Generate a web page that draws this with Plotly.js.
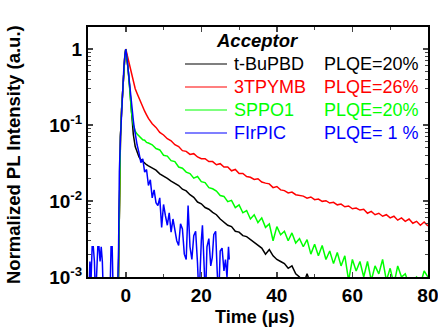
<!DOCTYPE html>
<html>
<head>
<meta charset="utf-8">
<script src="https://cdn.plot.ly/plotly-3.0.1.min.js"></script>
<style>html,body{margin:0;padding:0;background:#fff;}#chart{width:438px;height:327px;}</style>
</head>
<body>
<div id="chart"></div>
<script>
// Time axis (µs) shared by t-BuPBD, 3TPYMB and SPPO1
const timeUs = [-2.0,-1.7,-1.4,-1.1,-0.8,-0.5,-0.25,0,0.3,0.6,1.0,1.5,2.0,2.5,3.0,3.5,4.0,4.5,5.0,5.5,6.0,
  7,8,9,10,11,12,13,14,15,16,17,18,19,20,21,22,23,24,25,26,27,28,29,30,
  31,32,33,34,35,36,37,38,39,40,41,42,43,44,45,46,47,48,49,50,
  51,52,53,54,55,56,57,58,59,60,61,62,63,64,65,66,67,68,69,70,
  71,72,73,74,75,76,77,78,79,80];

const tBuPBD = [0.0006,0.02,0.07,0.16,0.32,0.55,0.8,1,0.8,0.56,0.33,0.15,0.075,0.052,0.043,0.038,0.035,0.033,0.031,0.030,0.029,
  0.027,0.0255,0.0228,0.0215,0.0198,0.0183,0.0170,0.0160,0.0143,0.0136,0.0121,0.0112,0.0097,0.0092,0.0082,0.0078,0.0071,0.0066,0.0058,0.0053,0.0048,0.0046,0.0040,0.0039,
  0.0035,0.0034,0.0031,0.0029,0.0026,0.0024,0.0020,0.0023,0.0019,0.0017,0.0016,0.0015,0.0013,0.0014,0.0011,0.0010,0.0008,0.0011,0.0008,0.0007];

const tpymb = [0.0006,0.02,0.07,0.16,0.32,0.55,0.8,1,0.86,0.73,0.58,0.45,0.36,0.30,0.26,0.225,0.195,0.172,0.152,0.136,0.122,
  0.104,0.093,0.080,0.074,0.066,0.062,0.055,0.052,0.046,0.045,0.041,0.042,0.038,0.036,0.036,0.033,0.033,0.030,0.031,0.028,0.028,0.025,0.026,0.023,
  0.023,0.021,0.0205,0.0192,0.0196,0.0178,0.0172,0.0168,0.0150,0.0155,0.0140,0.0137,0.0128,0.0131,0.0121,0.0118,0.0116,0.0109,0.0113,0.0104,
  0.0106,0.0099,0.0101,0.0094,0.0096,0.0089,0.0091,0.0084,0.0086,0.0079,0.0081,0.0076,0.0078,0.0069,0.0073,0.0066,0.0069,0.0063,0.0066,0.0060,
  0.0063,0.0056,0.0060,0.0054,0.0058,0.0051,0.0054,0.0048,0.0053,0.0047];

const sppo1 = [0.0006,0.02,0.07,0.16,0.32,0.55,0.8,1,0.78,0.55,0.32,0.15,0.10,0.083,0.076,0.071,0.068,0.064,0.063,0.059,0.058,
  0.055,0.049,0.047,0.040,0.039,0.034,0.033,0.028,0.027,0.024,0.023,0.020,0.021,0.018,0.0175,0.0150,0.0145,0.0135,0.0118,0.0115,0.0098,0.0102,0.0082,0.0089,
  0.0070,0.0075,0.0058,0.0066,0.0052,0.0060,0.0045,0.0050,0.0030,0.0046,0.0036,0.0040,0.0030,0.0038,0.0028,0.0032,0.0025,0.0031,0.0020,0.0027,
  0.0019,0.0026,0.0017,0.0022,0.0015,0.0021,0.0014,0.0019,0.0009,0.0017,0.0012,0.0016,0.0010,0.0016,0.0009,0.0014,0.0011,0.0017,0.0009,0.0013,
  0.0008,0.0014,0.0010,0.0011,0.0008,0.0009,0.0010,0.0008,0.0012,0.0010];

// FIrPIC has its own time base
const timeFIrPIC = [-9.8,-9.5,-9.2,-8.9,-8.6,-8.3,-8.0,-7.7,-7.4,-7.1,-6.8,-6.5,-6.2,-5.9,-5.5,-5.2,-4.9,-4.5,-4.2,-3.9,-3.6,-3.3,-3.0,-2.6,-2.2,-1.9,
  -1.7,-1.4,-1.1,-0.8,-0.5,-0.25,0,0.3,0.6,1.0,1.3,1.5,2.0,2.2,2.5,3.0,3.5,4.0,4.5,5.0,5.5,6.0,6.5,7.0,7.5,8.0,8.5,9.0,9.5,10.0,10.5,11.0,11.5,12.0,12.5,13.0,13.5,
  14.0,14.5,15.0,15.5,16.0,16.5,17.0,17.5,18.0,18.5,19.0,19.4,20.0,20.3,20.8,21.1,21.5,22.0,22.5,22.9,23.3,23.8,24.2,24.6,25.0,25.5,26.0,26.4,26.8,27.2,27.4];
const firpic = [0.0005,0.0016,0.0009,0.0025,0.0025,0.0016,0.0005,0.0016,0.0025,0.0025,0.0016,0.0025,0.0016,0.0005,0.0005,0.0005,0.0005,0.0005,0.0005,0.0025,0.0025,0.0005,0.0005,0.0005,0.0005,0.0025,
  0.024,0.07,0.16,0.32,0.57,0.82,1,0.78,0.55,0.33,0.215,0.17,0.115,0.096,0.075,0.055,0.043,0.032,0.036,0.024,0.026,0.016,0.019,0.011,0.014,0.0095,0.0087,0.011,0.0045,0.0090,0.0064,0.0048,0.0070,0.0039,0.0058,0.0042,0.0030,
  0.0026,0.0050,0.0043,0.0020,0.0017,0.0087,0.0025,0.0017,0.0035,0.0040,0.0015,0.0005,0.0030,0.0048,0.0012,0.0005,0.0025,0.0032,0.0014,0.0018,0.0036,0.0040,0.0012,0.0005,0.0022,0.0024,0.0012,0.0017,0.0010,0.0025,0.0017];

const seriesNames = ['t-BuPBD','3TPYMB','SPPO1','FIrPIC'];
const plqeLabels = ['PLQE=20%','PLQE=26%','PLQE=20%','PLQE= 1 %'];
const seriesColors = ['#000000','#ff0000','#00ff00','#0000ff'];
const xTickVals = [0,20,40,60,80];
const xTickText = ['0','20','40','60','80'];
const yTickVals = [0.001,0.01,0.1,1];
const yTickText = ['10<sup>-3</sup>','10<sup>-2</sup>','10<sup>-1</sup>','1'];

const FONT = 'Arial, "Liberation Sans", sans-serif';

const traces = [
  {x: timeUs.slice(0, tBuPBD.length), y: tBuPBD, name: seriesNames[0]},
  {x: timeUs, y: tpymb, name: seriesNames[1]},
  {x: timeUs, y: sppo1, name: seriesNames[2]},
  {x: timeFIrPIC, y: firpic, name: seriesNames[3]}
].map((t, i) => Object.assign(t, {
  type: 'scatter', mode: 'lines', showlegend: false,
  line: {color: seriesColors[i], width: 1.5}
}));

// legend drawn by hand
const L = 88, T = 27, W = 340, H = 250;
const px = v => (v - L) / W;
const py = v => (T + H - v) / H;
const rowY = [64, 87, 110, 133];
const shapes = [];
const annotations = [];
rowY.forEach((yy, i) => {
  shapes.push({type: 'line', xref: 'paper', yref: 'paper', x0: px(185), x1: px(227), y0: py(yy), y1: py(yy),
    line: {color: seriesColors[i], width: 1.2}});
  annotations.push({xref: 'paper', yref: 'paper', x: px(232), y: py(yy), xanchor: 'left', yanchor: 'middle',
    text: seriesNames[i], showarrow: false, font: {family: FONT, size: 18, color: seriesColors[i]}});
  annotations.push({xref: 'paper', yref: 'paper', x: px(322), y: py(yy), xanchor: 'left', yanchor: 'middle',
    text: plqeLabels[i], showarrow: false, font: {family: FONT, size: 18, color: seriesColors[i]}});
});
annotations.push({xref: 'paper', yref: 'paper', x: px(257), y: py(40), xanchor: 'center', yanchor: 'middle',
  text: '<b><i>Acceptor</i></b>', showarrow: false, font: {family: FONT, size: 18.5, color: '#000'}});
annotations.push({xref: 'paper', yref: 'paper', x: px(13), y: py(155), xanchor: 'center', yanchor: 'middle',
  textangle: -90, text: '<b>Normalized PL Intensity (a.u.)</b>', showarrow: false, font: {family: FONT, size: 18.5, color: '#000'}});
annotations.push({xref: 'paper', yref: 'paper', x: px(255), y: py(317), xanchor: 'center', yanchor: 'middle',
  text: '<b>Time (\u03bcs)</b>', showarrow: false, font: {family: FONT, size: 18, color: '#000'}});

const layout = {
  width: 438, height: 327,
  margin: {l: L, r: 438 - L - W, t: T, b: 327 - T - H, pad: 0},
  paper_bgcolor: '#fff', plot_bgcolor: '#fff',
  font: {family: FONT, color: '#000'},
  xaxis: {
    range: [-10, 80.02], tickvals: xTickVals, ticktext: xTickText, ticks: 'inside', ticklen: 5, tickwidth: 1.5,
    showline: true, linewidth: 2, linecolor: '#000', mirror: 'allticks', showgrid: false, zeroline: false,
    tickfont: {family: FONT, size: 19, weight: 'bold'}, ticklabeloverflow: 'allow',
    minor: {dtick: 10, tick0: 0, ticks: 'inside', ticklen: 3, tickwidth: 1, showgrid: false}
  },
  yaxis: {
    type: 'log', range: [-3, 0.29], tickvals: yTickVals, ticktext: yTickText,
    ticks: 'inside', ticklen: 5, tickwidth: 1.5,
    showline: true, linewidth: 2, linecolor: '#000', mirror: 'allticks', showgrid: false, zeroline: false,
    tickfont: {family: FONT, size: 19, weight: 'bold'},
    minor: {dtick: 'D1', ticks: 'inside', ticklen: 3, tickwidth: 1, showgrid: false}
  },
  shapes: shapes,
  annotations: annotations
};

Plotly.newPlot('chart', traces, layout, {staticPlot: true, displayModeBar: false});
</script>
</body>
</html>
